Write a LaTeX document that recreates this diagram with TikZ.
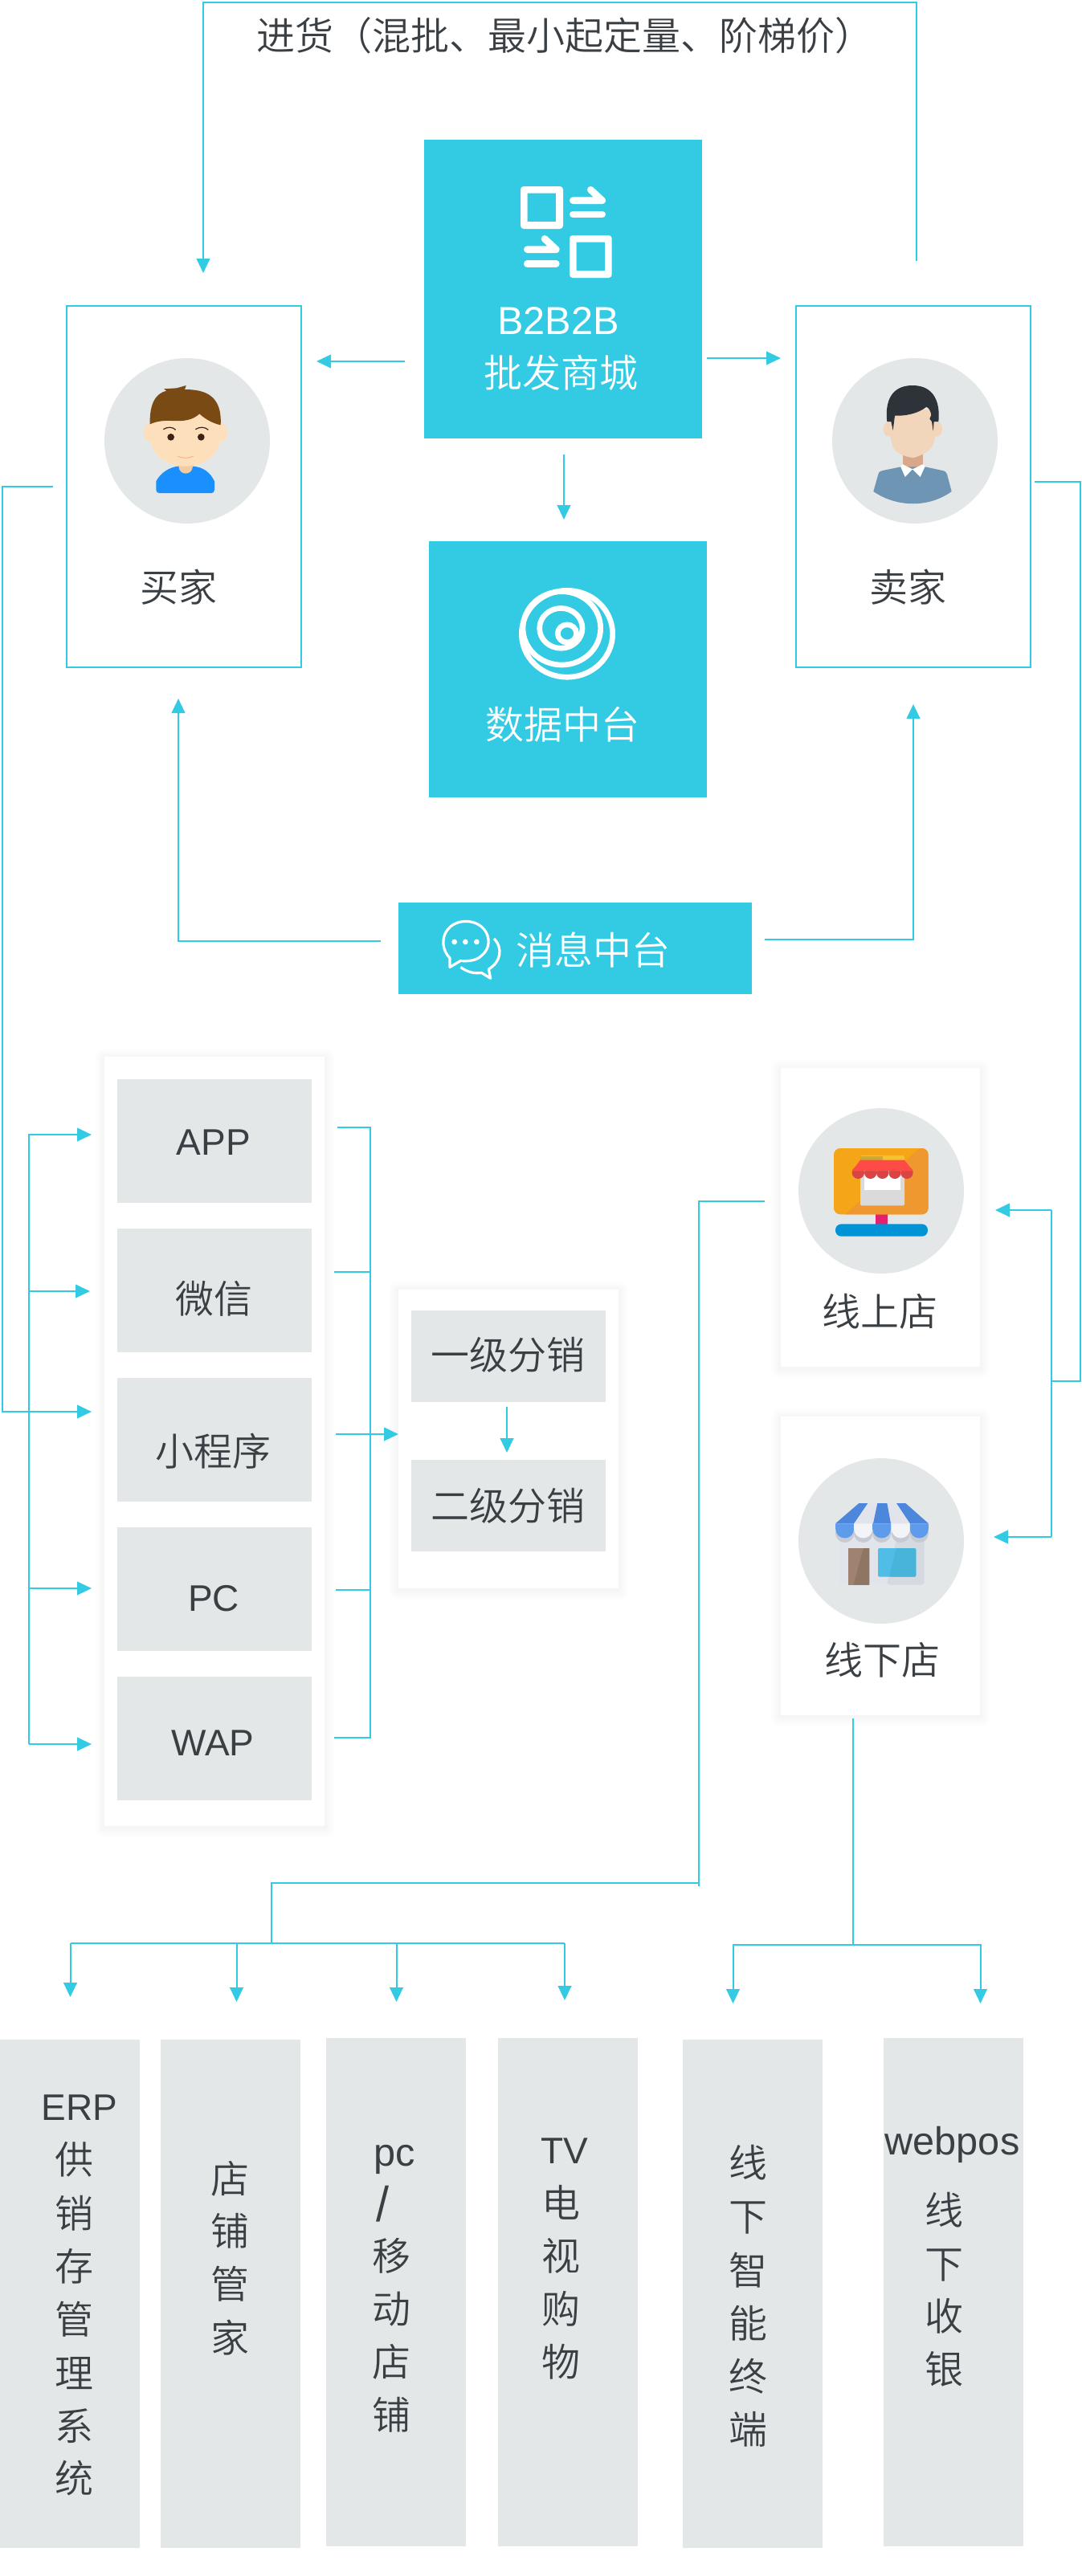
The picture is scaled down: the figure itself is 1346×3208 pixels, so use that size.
\documentclass[tikz,border=0pt]{standalone}
\usepackage{fontspec}
\usetikzlibrary{arrows.meta}
\setmainfont{Liberation Sans}
\newfontfamily\cjk{Noto Sans CJK SC DemiLight}
\definecolor{brand}{HTML}{33CBE4}
\definecolor{panelgrey}{HTML}{E4E7E8}
\definecolor{inkgrey}{HTML}{3A3F44}
\tikzset{
  hx/.code={\definecolor{tmphx}{HTML}{#1}\tikzset{color=tmphx}},
  boxbase/.style={rectangle,inner sep=0pt,outer sep=0pt},
  solidbox/.style={boxbase,fill=brand},
  outlinebox/.style={boxbase,draw=brand,line width=1.6pt,fill=white},
  greybox/.style={boxbase,fill=panelgrey},
  panelbox/.style={boxbase,fill=white},
  avatar/.style={circle,inner sep=0pt,outer sep=0pt,fill=panelgrey,minimum size=154.5pt},
  lbl/.style={inner sep=0pt,outer sep=0pt,text=inkgrey,font=\fontsize{36}{41}\selectfont\cjk,text height=31.5pt,text depth=4.5pt},
  wlbl/.style={lbl,text=white},
  lat/.style={lbl,font=\fontsize{34.5}{41}\selectfont},
  latb/.style={lat,font=\fontsize{36.5}{41}\selectfont},
  latw/.style={latb,text=white},
  conn/.style={draw=brand,line width=1.5pt,line cap=butt,line join=miter},
  arr/.style={conn,-{Triangle[length=13.5pt,width=12.5pt]}},
  icon/.style={x=0.25pt,y=-0.25pt},
}
\newcommand\rectnode[6]{\node[#1,minimum width={(#5-#3)*0.75pt},minimum height={(#6-#4)*0.75pt}] (#2) at ({(#3+#5)/2},{(#4+#6)/2}) {};}
\newcommand\softshadow[4]{\foreach \d in {1,...,10}{\fill[black,opacity=.004,rounded corners={\d*0.75pt}] ({#1-\d*1.2},{#2-\d*1.2+2}) rectangle ({#3+\d*1.2},{#4+\d*1.2+2});}}
\begin{document}
\begin{tikzpicture}[x=0.75pt,y=-0.75pt]
\useasboundingbox (0,0) rectangle (1346,3208);
\fill[white] (0,0) rectangle (1346,3208);

% ---- main boxes
\rectnode{solidbox}{b2b}{528}{174}{874}{546}
\rectnode{solidbox}{data}{534}{674}{880}{993}
\rectnode{solidbox}{msg}{496}{1124}{936}{1238}
\rectnode{outlinebox}{buyer}{83}{381}{375}{831}
\rectnode{outlinebox}{seller}{991}{381}{1283}{831}

% ---- panels
\softshadow{130}{1316}{404}{2274}
\rectnode{panelbox}{channels}{130}{1316}{404}{2274}
\softshadow{496}{1606}{770}{1978}
\rectnode{panelbox}{dist}{496}{1606}{770}{1978}
\softshadow{972}{1330}{1220}{1702}
\rectnode{panelbox}{online}{972}{1330}{1220}{1702}
\softshadow{972}{1764}{1220}{2136}
\rectnode{panelbox}{offline}{972}{1764}{1220}{2136}

\rectnode{greybox}{app}{146}{1344}{388}{1498}
\rectnode{greybox}{wx}{146}{1530}{388}{1684}
\rectnode{greybox}{mini}{146}{1716}{388}{1870}
\rectnode{greybox}{pcb}{146}{1902}{388}{2056}
\rectnode{greybox}{wap}{146}{2088}{388}{2242}
\rectnode{greybox}{lvla}{512}{1632}{754}{1746}
\rectnode{greybox}{lvlb}{512}{1818}{754}{1932}

\rectnode{greybox}{erp}{0}{2540}{174}{3173}
\rectnode{greybox}{shop}{200}{2540}{374}{3173}
\rectnode{greybox}{pcm}{406}{2538}{580}{3171}
\rectnode{greybox}{tv}{620}{2538}{794}{3171}
\rectnode{greybox}{term}{850}{2540}{1024}{3173}
\rectnode{greybox}{pos}{1100}{2538}{1274}{3171}

% ---- avatar circles
\node[avatar] (cbuyer) at (233,549) {};
\node[avatar] (cseller) at (1139,549) {};
\node[avatar] (conline) at (1097,1483) {};
\node[avatar] (coffline) at (1097,1919) {};

% ---- connector anchors
\coordinate (tS) at (1141,325); \coordinate (tR) at (1141,3); \coordinate (tL) at (253,3); \coordinate (tE) at (253,340);
\coordinate (bbL) at (504,450); \coordinate (bbLe) at (394,450);
\coordinate (bbR) at (880,446); \coordinate (bbRe) at (972,446);
\coordinate (bbD) at (702,566); \coordinate (bbDe) at (702,647);
\coordinate (mL) at (474,1172); \coordinate (mLc) at (222,1172); \coordinate (mLe) at (222,870);
\coordinate (mR) at (952,1170); \coordinate (mRc) at (1137,1170); \coordinate (mRe) at (1137,877);
\coordinate (bL) at (66,606); \coordinate (bLa) at (3,606); \coordinate (bLb) at (3,1758); \coordinate (bLe) at (114,1758);
\coordinate (sR) at (1288,600); \coordinate (sRa) at (1345,600); \coordinate (sRb) at (1345,1720); \coordinate (sRe) at (1309,1720);
\coordinate (stT) at (1309,1507); \coordinate (stTe) at (1239,1507); \coordinate (stB) at (1309,1914); \coordinate (stBe) at (1237,1914);
\coordinate (lA) at (36,1413); \coordinate (lAe) at (114,1413);
\coordinate (lB) at (36,1608); \coordinate (lBe) at (112,1608);
\coordinate (lC) at (36,1978); \coordinate (lCe) at (114,1978);
\coordinate (lD) at (36,2172); \coordinate (lDe) at (114,2172);
\coordinate (rA) at (420,1404); \coordinate (rAc) at (461,1404);
\coordinate (rB) at (416,1584); \coordinate (rBc) at (461,1584);
\coordinate (rC) at (418,1786); \coordinate (rCe) at (496,1786);
\coordinate (rD) at (418,1980); \coordinate (rDc) at (461,1980);
\coordinate (rE) at (416,2164); \coordinate (rEc) at (461,2164);
\coordinate (dA) at (631,1752); \coordinate (dAe) at (631,1809);
\coordinate (oA) at (952,1496); \coordinate (oAa) at (870,1496); \coordinate (oAb) at (870,2349);
\coordinate (oBa) at (870,2345); \coordinate (oBb) at (338,2345); \coordinate (oBc) at (338,2420);
\coordinate (hL) at (87.5,2420); \coordinate (hR) at (703,2420);
\coordinate (h1e) at (87.5,2487); \coordinate (h2) at (294.5,2420); \coordinate (h2e) at (294.5,2493);
\coordinate (h3) at (493.5,2420); \coordinate (h3e) at (493.5,2493); \coordinate (h4e) at (703,2491);
\coordinate (fA) at (1062,2140); \coordinate (fB) at (1062,2422);
\coordinate (fL) at (912.5,2422); \coordinate (fR) at (1220.5,2422); \coordinate (fLe) at (912.5,2495); \coordinate (fRe) at (1220.5,2495);

% ---- connectors
\draw[arr] (tS) -- (tR) -- (tL) -- (tE);
\draw[arr] (bbL) -- (bbLe);
\draw[arr] (bbR) -- (bbRe);
\draw[arr] (bbD) -- (bbDe);
\draw[arr] (mL) -- (mLc) -- (mLe);
\draw[arr] (mR) -- (mRc) -- (mRe);
\draw[arr] (bL) -- (bLa) -- (bLb) -- (bLe);
\draw[conn] (sR) -- (sRa) -- (sRb) -- (sRe);
\draw[conn] (stT) -- (stB);
\draw[arr] (stT) -- (stTe);
\draw[arr] (stB) -- (stBe);
\draw[arr] (lD) -- (lA) -- (lAe);
\draw[arr] (lB) -- (lBe);
\draw[arr] (lC) -- (lCe);
\draw[arr] (lD) -- (lDe);
\draw[conn] (rA) -- (rAc) -- (rEc) -- (rE);
\draw[conn] (rB) -- (rBc);
\draw[conn] (rD) -- (rDc);
\draw[arr] (rC) -- (rCe);
\draw[arr] (dA) -- (dAe);
\draw[conn] (oA) -- (oAa) -- (oAb);
\draw[conn] (oBa) -- (oBb) -- (oBc);
\draw[conn] (hL) -- (hR);
\draw[arr] (hL) -- (h1e);
\draw[arr] (h2) -- (h2e);
\draw[arr] (h3) -- (h3e);
\draw[arr] (hR) -- (h4e);
\draw[conn] (fA) -- (fB);
\draw[arr] (fB) -- (fL) -- (fLe);
\draw[arr] (fB) -- (fR) -- (fRe);

% ---- texts
\node[lbl] (title) at (703,45) {进货（混批、最小起定量、阶梯价）};
\node[latw] (tb2b) at (695,398) {B2B2B};
\node[wlbl] (tmall) at (698,464) {批发商城};
\node[wlbl] (tdata) at (700,902) {数据中台};
\node[wlbl] (tmsg) at (738,1183) {消息中台};
\node[lbl] (tbuyer) at (222,731) {买家};
\node[lbl] (tseller) at (1130.5,731) {卖家};
\node[lat] (tapp) at (266,1420) {APP};
\node[lbl] (twx) at (266,1617) {微信};
\node[lbl] (tmini) at (265,1807) {小程序};
\node[lat] (tpc) at (266,1988) {PC};
\node[lat] (twap) at (265,2168) {WAP};
\node[lbl] (tlvla) at (632,1687) {一级分销};
\node[lbl] (tlvlb) at (632,1875) {二级分销};
\node[lbl] (tonline) at (1095,1633) {线上店};
\node[lbl] (toffline) at (1098,2067) {线下店};

\node[lat] (terp) at (99,2622) {ERP};
\foreach \t/\yy [count=\i] in {供/2689,销/2756,存/2822,管/2888,理/2955,系/3021,统/3086}
  \node[lbl] (terp\i) at (92,\yy) {\t};
\foreach \t/\yy [count=\i] in {店/2713,铺/2778,管/2844,家/2911}
  \node[lbl] (tshop\i) at (286,\yy) {\t};
\node[latb] (tpcm) at (491,2679) {pc};
\node[lat] (tslash) at (476,2748) {\scalebox{1.25}[1.33]{/}};
\foreach \t/\yy [count=\i] in {移/2809,动/2875,店/2941,铺/3007}
  \node[lbl] (tpcm\i) at (487.5,\yy) {\t};
\node[lat] (ttv) at (703,2676) {TV};
\foreach \t/\yy [count=\i] in {电/2743,视/2809,购/2875,物/2941}
  \node[lbl] (ttv\i) at (698,\yy) {\t};
\foreach \t/\yy [count=\i] in {线/2693,下/2760,智/2827,能/2893,终/2959,端/3025}
  \node[lbl] (tterm\i) at (931,\yy) {\t};
\node[latb] (tpos) at (1185.5,2665) {webpos};
\foreach \t/\yy [count=\i] in {线/2752,下/2819,收/2884,银/2950}
  \node[lbl] (tpos\i) at (1175,\yy) {\t};

% ---- B2B icon
\begin{scope}[shift={(520,170)},icon]
  \fill[white,rounded corners=3pt,even odd rule] (384,186) rectangle (543,345) [sharp corners] (410,212) rectangle (516,318);
  \fill[white,rounded corners=3pt,even odd rule] (567,369) rectangle (725,528) [sharp corners] (593,395) rectangle (699,501);
  \draw[white,line width=6.5pt,line cap=round,line join=round] (580,239) -- (689,239) -- (646,199);
  \draw[white,line width=6.5pt,line cap=round] (580,291) -- (689,291);
  \draw[white,line width=6.5pt,line cap=round,line join=round] (409,422) -- (517,422) -- (474,382);
  \draw[white,line width=6.5pt,line cap=round] (409,475) -- (517,475);
\end{scope}

% ---- data icon
\begin{scope}[shift={(520,700)},x=0.25pt,y=-0.2595pt]
  \draw[white,line width=5pt] (558,258) ellipse [x radius=170,y radius=156];
  \draw[white,line width=5pt] (538,238) ellipse [x radius=145,y radius=132];
  \draw[white,line width=5pt] (535,238) ellipse [x radius=80,y radius=72];
  \draw[white,line width=5pt] (558,257) ellipse [x radius=35,y radius=32];
\end{scope}

% ---- message icon
\begin{scope}[shift={(520,700)},x=0.25pt,y=-0.2595pt]
  \draw[white,line width=2.4pt,line join=round]
    (120,1425) .. controls (70,1375) and (100,1293) .. (180,1293)
    .. controls (260,1293) and (290,1375) .. (240,1415)
    .. controls (220,1435) and (190,1437) .. (160,1435)
    -- (120,1458) -- cycle;
  \draw[white,line width=2.4pt,line join=round]
    (285,1355) .. controls (320,1390) and (310,1440) .. (265,1465)
    -- (272,1498) -- (238,1478) .. controls (210,1482) and (185,1475) .. (160,1458);
  \fill[white] (137,1367) circle [radius=10] (178,1367) circle [radius=10] (220,1367) circle [radius=10];
\end{scope}

% ---- buyer avatar
\begin{scope}[shift={(80,370)},icon]
  \fill[hx=FEDFBC] (318,506) ellipse [x radius=22,y radius=33];
  \fill[hx=FEDFBC] (587,506) ellipse [x radius=22,y radius=33];
  \fill[hx=1A90FF] (343,688) .. controls (360,655) and (395,635) .. (425,632) -- (480,632)
     .. controls (520,635) and (545,655) .. (561,688) -- (561,720) .. controls (561,728) and (556,732) .. (550,732)
     -- (355,732) .. controls (348,732) and (343,728) .. (343,720) -- cycle;
  \fill[hx=F2CBA0] (427,625) -- (480,625) -- (480,632) .. controls (478,668) and (429,668) .. (427,632) -- cycle;
  \fill[hx=FEDFBC] (320,440) -- (584,440) -- (582,530) .. controls (580,590) and (520,632) .. (452,632)
     .. controls (385,632) and (325,590) .. (322,530) -- cycle;
  \fill[hx=7A4A14] (320,475) .. controls (318,400) and (340,360) .. (382,350) -- (372,343) -- (420,340) -- (455,330) -- (450,345)
     .. controls (530,345) and (590,370) .. (584,478) .. controls (555,472) and (525,455) .. (505,436)
     .. controls (480,460) and (445,465) .. (400,462) .. controls (370,460) and (340,465) .. (320,475) -- cycle;
  \fill[hx=3A2417] (398,523) circle [radius=13] (511,523) circle [radius=13];
  \draw[hx=3A2417,line width=.9pt] (370,494) .. controls (385,484) and (405,484) .. (416,496);
  \draw[hx=3A2417,line width=.9pt] (490,494) .. controls (505,484) and (525,484) .. (538,496);
  \draw[hx=FDB38A,line width=.8pt] (423,594) .. controls (440,603) and (465,603) .. (483,594);
\end{scope}

% ---- seller avatar
\begin{scope}[shift={(980,370)},icon]
  \fill[hx=F2D6BC] (378,493) ellipse [x radius=19,y radius=28];
  \fill[hx=F2D6BC] (560,493) ellipse [x radius=19,y radius=28];
  \fill[hx=D9A88B] (432,570) rectangle (506,645);
  \fill[hx=F2D6BC] (385,420) -- (555,420) -- (555,510) .. controls (548,550) and (540,570) .. (510,585)
     .. controls (490,595) and (470,602) .. (468,600) .. controls (450,598) and (425,590) .. (405,575)
     .. controls (392,560) and (385,530) .. (385,510) -- cycle;
  \fill[hx=6F95B4] (322,726) -- (340,662) .. controls (343,652) and (348,650) .. (356,648) -- (425,634) -- (515,634)
     -- (580,648) .. controls (590,650) and (595,655) .. (597,662) -- (614,726)
     .. controls (530,787) and (410,787) .. (322,726) -- cycle;
  \fill[white] (432,625) -- (468,643) -- (505,625) -- (515,632) -- (497,672) -- (468,643) -- (440,672) -- (423,632) -- cycle;
  \fill[hx=2E3239] (373,465) .. controls (365,395) and (385,330) .. (468,330)
     .. controls (550,330) and (572,395) .. (565,465) -- (548,465) -- (545,500) -- (540,465) -- (532,455) -- (538,440)
     .. controls (535,425) and (530,415) .. (520,410) .. controls (490,435) and (440,445) .. (402,443)
     -- (395,498) -- (388,465) -- cycle;
\end{scope}

% ---- online store icon
\begin{scope}[shift={(960,1340)},icon]
  \fill[hx=E6206E] (389,510) rectangle (435,560);
  \fill[hx=0093D5,rounded corners=5.5pt] (240,553) rectangle (585,599);
  \fill[hx=F5A518,rounded corners=6pt] (234,270) rectangle (587,517);
  \begin{scope}
    \clip[rounded corners=6pt] (234,270) rectangle (587,517);
    \fill[hx=EF9830] (555,270) -- (600,270) -- (600,530) -- (262,530) -- cycle;
  \end{scope}
  \fill[hx=DADADA,rounded corners=1.5pt] (333,350) rectangle (498,484);
  \fill[white] (348,350) rectangle (484,426);
  \fill[hx=F4C430,rounded corners=1.5pt] (333,297) rectangle (498,318);
  \fill[hx=CFA92F] (333,299) rectangle (416,315);
  \foreach \cx in {325,371,416,462,507}{\fill[hx=D94545] (\cx,361) circle [radius=23];}
  \fill[hx=FF4B45] (333,314) -- (498,314) -- (530,355) -- (302,355) -- cycle;
\end{scope}

% ---- offline store icon
\begin{scope}[shift={(960,1780)},icon]
  \fill[hx=E1E4EA,rounded corners=3pt] (256,400) rectangle (572,581);
  \fill[hx=D5D9E0,rounded corners=3pt] (470,400) -- (572,400) -- (572,581) -- (432,581) -- cycle;
  \foreach \cx in {275,344,413,484,553}{\fill[hx=C7CAD3] (\cx,388) circle [radius=35];}
  \fill[hx=A08270] (288,581) -- (288,444) -- (367,444) -- (367,581) -- cycle;
  \fill[hx=8F7663] (345,444) -- (367,444) -- (367,581) -- (307,581) -- cycle;
  \fill[hx=4FBDE6,rounded corners=1.5pt] (399,444) rectangle (541,551);
  \fill[hx=48B4DA,rounded corners=1.5pt] (467,444) -- (541,444) -- (541,551) -- (441,551) -- cycle;
  \fill[hx=E1E4EA] (361,276) -- (397,276) -- (381,352) -- (309,352) -- cycle;
  \fill[hx=E1E4EA] (433,276) -- (468,276) -- (519,352) -- (447,352) -- cycle;
  \fill[hx=4C87DC] (328,276) -- (361,276) -- (309,352) -- (240,352) -- cycle;
  \fill[hx=4C87DC] (397,276) -- (433,276) -- (447,352) -- (381,352) -- cycle;
  \fill[hx=4C87DC] (468,276) -- (502,276) -- (588,352) -- (519,352) -- cycle;
  \foreach \cx/\cc in {275/5E9CEB,344/F2F4F8,413/5E9CEB,484/F2F4F8,553/5E9CEB}{
    \definecolor{scallop}{HTML}{\cc}
    \fill[scallop] ({\cx-34.5},352) -- ({\cx+34.5},352) -- ({\cx+34.5},372) arc [start angle=0,end angle=180,radius=34.5] -- cycle;
  }
\end{scope}
\end{tikzpicture}
\end{document}
